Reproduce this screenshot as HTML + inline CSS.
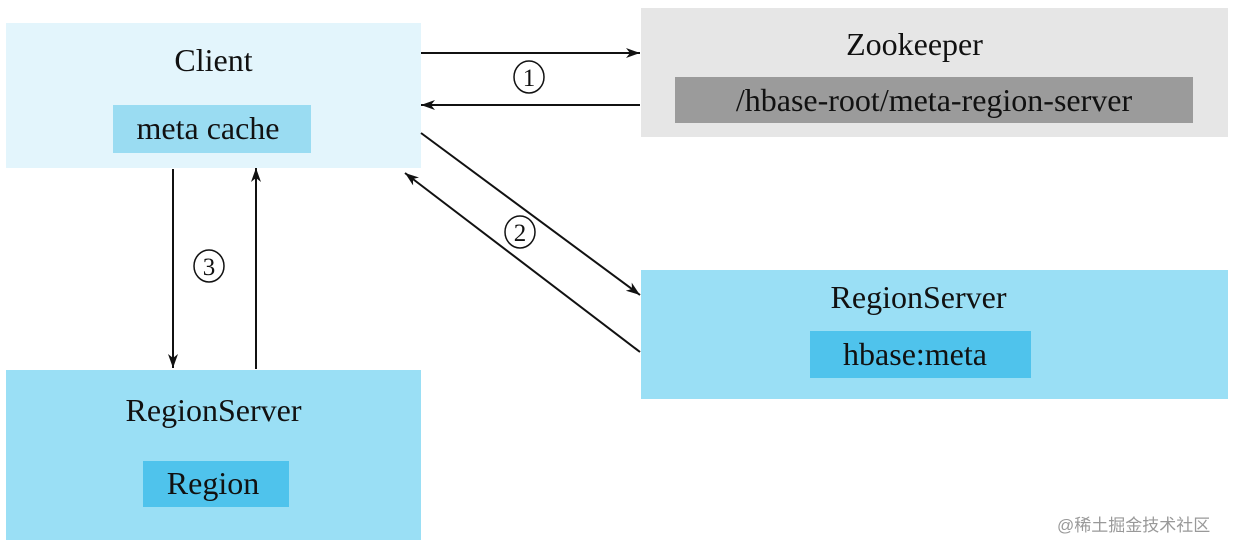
<!DOCTYPE html>
<html><head><style>
body{margin:0;width:1236px;height:549px;background:#fff;position:relative;overflow:hidden;font-family:"Liberation Serif",serif;color:#111}
.b{position:absolute;box-sizing:border-box}
.t{position:absolute;font-size:32px;text-align:center;white-space:nowrap;line-height:40px}
</style></head><body>
<div class="b" style="left:6px;top:23px;width:415px;height:145px;background:#e3f5fc"></div>
<div class="t" style="left:6px;top:40px;width:415px">Client</div>
<div class="b" style="left:113px;top:105px;width:198px;height:48px;background:#9adcf2"></div>
<div class="t" style="left:100px;top:108px;width:216px">meta cache</div>

<div class="b" style="left:641px;top:8px;width:587px;height:129px;background:#e6e6e6"></div>
<div class="t" style="left:641px;top:24px;width:547px">Zookeeper</div>
<div class="b" style="left:675px;top:77px;width:518px;height:46px;background:#9b9b9b"></div>
<div class="t" style="left:675px;top:80px;width:518px">/hbase-root/meta-region-server</div>

<div class="b" style="left:641px;top:270px;width:587px;height:129px;background:#9adff5"></div>
<div class="t" style="left:641px;top:277px;width:555px">RegionServer</div>
<div class="b" style="left:810px;top:331px;width:221px;height:47px;background:#4fc3ec"></div>
<div class="t" style="left:810px;top:334px;width:210px">hbase:meta</div>

<div class="b" style="left:6px;top:370px;width:415px;height:170px;background:#9adff5"></div>
<div class="t" style="left:6px;top:390px;width:415px">RegionServer</div>
<div class="b" style="left:143px;top:461px;width:146px;height:46px;background:#4fc3ec"></div>
<div class="t" style="left:143px;top:463px;width:140px">Region</div>

<svg width="1236" height="549" style="position:absolute;left:0;top:0">
<defs><marker id="a" markerWidth="14" markerHeight="10" refX="14" refY="5" orient="auto" markerUnits="userSpaceOnUse"><path d="M0,0L14,5L0,10L4,5z" fill="#111"/></marker></defs>
<g stroke="#111" stroke-width="2" fill="none">
<line x1="421" y1="53" x2="640" y2="53" marker-end="url(#a)"/>
<line x1="640" y1="105" x2="421" y2="105" marker-end="url(#a)"/>
<line x1="421" y1="133" x2="640" y2="295" marker-end="url(#a)"/>
<line x1="640" y1="352" x2="405" y2="173" marker-end="url(#a)"/>
<line x1="173" y1="169" x2="173" y2="368" marker-end="url(#a)"/>
<line x1="256" y1="369" x2="256" y2="168" marker-end="url(#a)"/>
</g>
<g stroke="#111" stroke-width="1.5" fill="none">
<ellipse cx="529" cy="77" rx="15" ry="16"/>
<ellipse cx="520" cy="232" rx="15" ry="16"/>
<ellipse cx="209" cy="266" rx="15" ry="16"/>
</g>
<g font-family="Liberation Serif,serif" font-size="25" fill="#111" text-anchor="middle">
<text x="529" y="86">1</text>
<text x="520" y="241">2</text>
<text x="209" y="275">3</text>
</g>
</svg>
<div class="t" style="left:1057px;top:506px;font-size:17px;color:#999;font-family:'Liberation Sans','Noto Sans CJK SC',sans-serif">@稀土掘金技术社区</div>
</body></html>
